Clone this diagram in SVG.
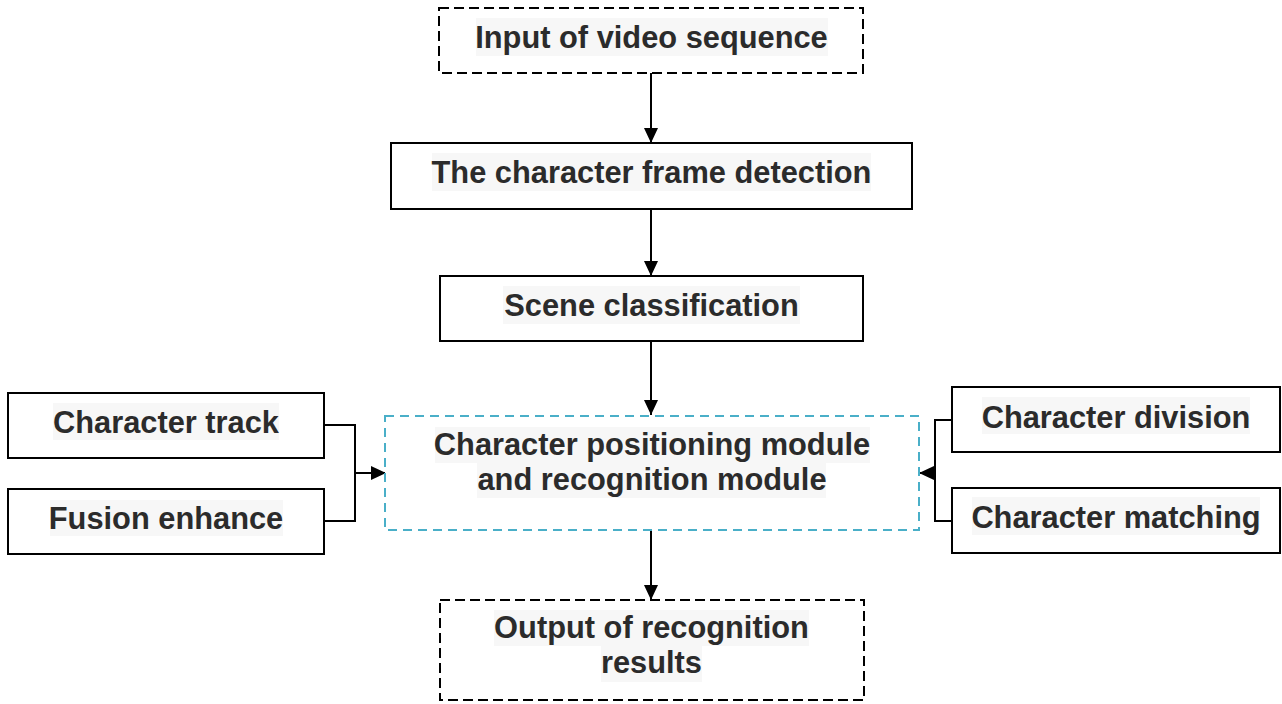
<svg xmlns="http://www.w3.org/2000/svg" width="1282" height="704" viewBox="0 0 1282 704">
  <style>
    .box { fill: #ffffff; stroke: #000000; stroke-width: 2; }
    .dash { fill: #ffffff; stroke: #000000; stroke-width: 2; stroke-dasharray: 10 5; }
    .blue { fill: #ffffff; stroke: #4aafc8; stroke-width: 2; stroke-dasharray: 9 6; }
    .hl { fill: #f7f7f7; }
    .lbl { font-family: "Liberation Sans", Arial, sans-serif; font-weight: bold; font-size: 30.8px; fill: #2b2b2b; text-anchor: middle; }
    .wire { fill: none; stroke: #000000; stroke-width: 2; }
  </style>
  <defs>
    <marker id="arrow" viewBox="0 0 15 14" refX="15" refY="7" markerWidth="15" markerHeight="14" markerUnits="userSpaceOnUse" orient="auto">
      <path d="M0,0 L15,7 L0,14 Z" fill="#000000"/>
    </marker>
  </defs>

  <rect width="1282" height="704" fill="#ffffff"/>

  <!-- connectors -->
  <g id="connectors">
    <line class="wire" x1="651" y1="73" x2="651" y2="143" marker-end="url(#arrow)"/>
    <line class="wire" x1="651" y1="209" x2="651" y2="276" marker-end="url(#arrow)"/>
    <line class="wire" x1="651" y1="341" x2="651" y2="415" marker-end="url(#arrow)"/>
    <line class="wire" x1="651" y1="530" x2="651" y2="600" marker-end="url(#arrow)"/>
    <polyline class="wire" points="324,425 355,425 355,521 324,521"/>
    <line class="wire" x1="355" y1="473" x2="386" y2="473" marker-end="url(#arrow)"/>
    <polyline class="wire" points="952,420 935,420 935,521 952,521"/>
    <line class="wire" x1="935" y1="473" x2="919" y2="473" marker-end="url(#arrow)"/>
  </g>

  <g id="input">
    <rect class="dash" x="439" y="8" width="424" height="65"/>
    <rect class="hl" x="476" y="18" width="352" height="38"/>
    <text class="lbl" x="651.5" y="48">Input of video sequence</text>
  </g>

  <g id="frame-detection">
    <rect class="box" x="391" y="143" width="521" height="66"/>
    <rect class="hl" x="432" y="153" width="439" height="38"/>
    <text class="lbl" x="651.5" y="183">The character frame detection</text>
  </g>

  <g id="scene">
    <rect class="box" x="440" y="276" width="423" height="65"/>
    <rect class="hl" x="503" y="286" width="297" height="38"/>
    <text class="lbl" x="651.5" y="316">Scene classification</text>
  </g>

  <g id="central">
    <rect class="blue" x="385" y="416" width="534" height="114"/>
    <rect class="hl" x="435" y="427" width="435" height="36"/>
    <rect class="hl" x="477" y="462" width="349" height="36"/>
    <text class="lbl" x="652" y="455">Character positioning module</text>
    <text class="lbl" x="652" y="490">and recognition module</text>
  </g>

  <g id="output">
    <rect class="dash" x="440" y="600" width="424" height="100"/>
    <rect class="hl" x="494" y="610" width="315" height="36"/>
    <rect class="hl" x="601" y="646" width="101" height="36"/>
    <text class="lbl" x="651.5" y="638">Output of recognition</text>
    <text class="lbl" x="651.5" y="673">results</text>
  </g>

  <g id="track">
    <rect class="box" x="8" y="393" width="316" height="65"/>
    <rect class="hl" x="53" y="403" width="226" height="37"/>
    <text class="lbl" x="166" y="433">Character track</text>
  </g>

  <g id="fusion">
    <rect class="box" x="8" y="489" width="316" height="65"/>
    <rect class="hl" x="50" y="500" width="233" height="36"/>
    <text class="lbl" x="166" y="529">Fusion enhance</text>
  </g>

  <g id="division">
    <rect class="box" x="952" y="387" width="328" height="65"/>
    <rect class="hl" x="982" y="397" width="268" height="37"/>
    <text class="lbl" x="1116" y="428">Character division</text>
  </g>

  <g id="matching">
    <rect class="box" x="952" y="488" width="328" height="65"/>
    <rect class="hl" x="972" y="497" width="288" height="38"/>
    <text class="lbl" x="1116" y="528">Character matching</text>
  </g>
</svg>
